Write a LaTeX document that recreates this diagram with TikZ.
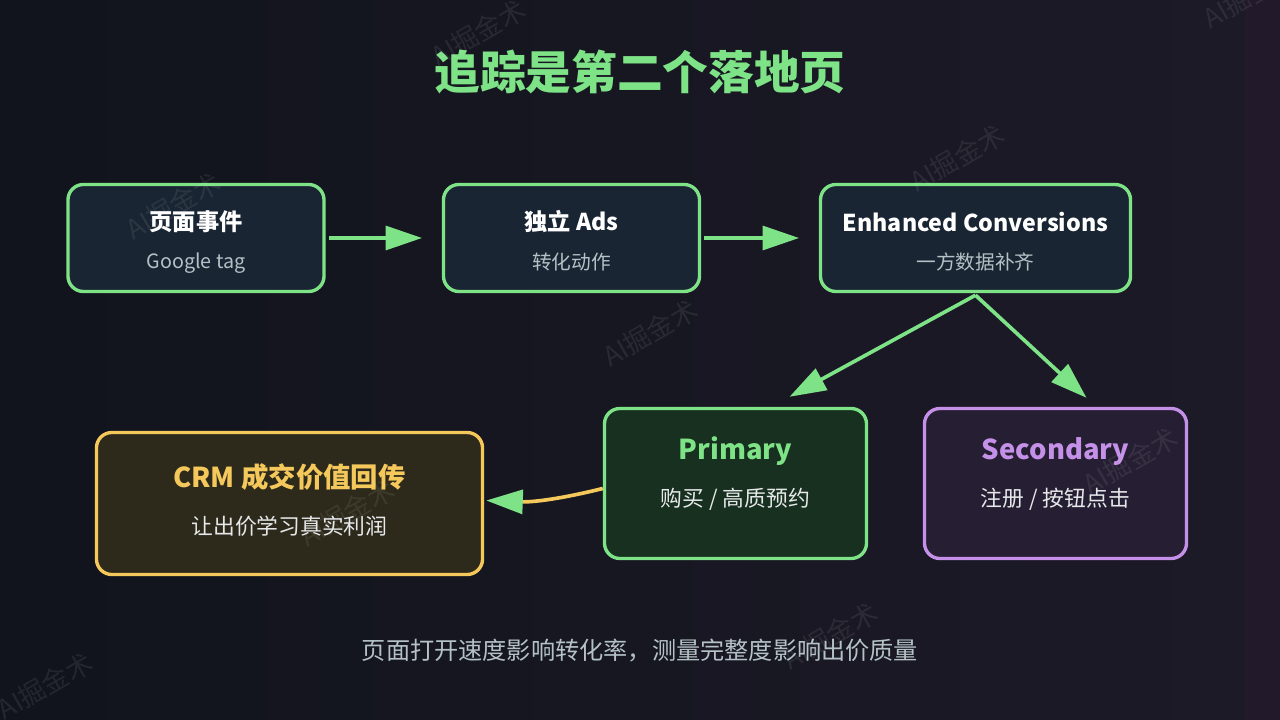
\documentclass[tikz,border=0pt]{standalone}
\usepackage{fontspec}
\setmainfont{Noto Sans CJK SC}
\usetikzlibrary{positioning,arrows.meta}

\definecolor{bgleft}{HTML}{11141C}
\definecolor{bgright}{HTML}{1D1A28}
\definecolor{bgedge}{HTML}{221A2B}
\definecolor{grn}{HTML}{7EE287}
\definecolor{ylw}{HTML}{F5C85C}
\definecolor{prp}{HTML}{C590E8}
\definecolor{navyfill}{HTML}{1A2533}
\definecolor{grnfill}{HTML}{18301F}
\definecolor{prpfill}{HTML}{261F33}
\definecolor{ylwfill}{HTML}{2D2A1B}
\definecolor{subgray}{HTML}{B4C2C6}
\definecolor{subwhite}{HTML}{E6E8EA}

\tikzset{
box/.style={draw=#1, line width=2.4pt, rounded corners=11pt, inner sep=0pt},
topbox/.style={box=grn, fill=navyfill, minimum width=6.4cm, minimum height=2.675cm},
lowbox/.style={box=#1, minimum width=6.55cm, minimum height=3.75cm},
ttl/.style={font=\bfseries\fontsize{16.5}{20}\selectfont, text=white, inner sep=0pt},
bigttl/.style={font=\bfseries\fontsize{19.5}{24}\selectfont, text=#1, inner sep=0pt},
sub/.style={font=\fontsize{14}{17}\selectfont, text=subgray, inner sep=0pt},
lowsub/.style={font=\fontsize{15.5}{18}\selectfont, text=subwhite, inner sep=0pt},
arr/.style={draw=grn, line width=2.6pt, -{Triangle[length=26pt,width=17pt]}},
wm/.style={font=\fontsize{19}{22}\selectfont, text=white, opacity=0.08, rotate=30, inner sep=0pt}
}

\begin{document}
\begin{tikzpicture}[x=0.025cm, y=-0.025cm]
\useasboundingbox (0,0) rectangle (1280,720);
\shade[left color=bgleft, right color=bgright] (0,0) rectangle (1280,720);
\fill[bgedge] (1245,0) rectangle (1280,720);

\node[font=\bfseries\fontsize{32.5}{39}\selectfont, text=grn] (title) at (640,72) {追踪是第二个落地页};

% top row
\node[topbox] (evt) at (196,238) {};
\node[topbox] (ads) at (571.5,238) {};
\node[topbox, minimum width=7.75cm] (ec) at (975.5,238) {};
\node[ttl] (evt-t) at ([shift={(0,-16)}]evt.center) {页面事件};
\node[sub] (evt-s) at ([shift={(0,25)}]evt.center) {Google tag};
\node[ttl] (ads-t) at ([shift={(0,-16)}]ads.center) {独立 Ads};
\node[sub] (ads-s) at ([shift={(0,24)}]ads.center) {转化动作};
\node[ttl] (ec-t) at ([shift={(0,-16)}]ec.center) {Enhanced Conversions};
\node[sub] (ec-s) at ([shift={(0,24)}]ec.center) {一方数据补齐};

% bottom row
\node[lowbox=grn, fill=grnfill] (pri) at (735.5,483.5) {};
\node[lowbox=prp, fill=prpfill] (sec) at (1055.5,483.5) {};
\node[box=ylw, fill=ylwfill, minimum width=9.65cm, minimum height=3.55cm] (crm) at (289.5,503.5) {};
\node[bigttl=grn] (pri-t) at ([shift={(0,-32)}]pri.center) {Primary};
\node[lowsub] (pri-s) at ([shift={(0,16)}]pri.center) {购买 / 高质预约};
\node[bigttl=prp] (sec-t) at ([shift={(0,-32)}]sec.center) {Secondary};
\node[lowsub] (sec-s) at ([shift={(0,16)}]sec.center) {注册 / 按钮点击};
\node[bigttl=ylw] (crm-t) at ([shift={(0,-26)}]crm.center) {CRM 成交价值回传};
\node[lowsub] (crm-s) at ([shift={(0,23)}]crm.center) {让出价学习真实利润};

% arrows
\foreach \s/\t in {evt/ads, ads/ec}{
	\draw[arr, shorten <=2pt, shorten >=14pt] (\s.east) -- (\t.west);
}
\draw[arr] ([shift={(0,2)}]ec.south) -- ([shift={(54,-10)}]pri.north);
\draw[arr] ([shift={(0,2)}]ec.south) -- ([shift={(31,-9)}]sec.north);
\draw[draw=ylw, line width=2.6pt, -{Triangle[length=26pt,width=17pt,color=grn]}]
  ([shift={(0,5)}]pri.west) to[bend left=8] ([shift={(2,-3)}]crm.east);

\node[font=\fontsize{17.2}{21}\selectfont, text=subgray] (note) at (640,651) {页面打开速度影响转化率，测量完整度影响出价质量};

% watermarks
\foreach \p [count=\i] in {(173,206),(478,33),(957,158),(1250,-5),(650,333),(347,513),(1130,461),(830,636),(45,686)}{
	\path \p node[wm] (wm\i) {AI掘金术};
}
\end{tikzpicture}
\end{document}
